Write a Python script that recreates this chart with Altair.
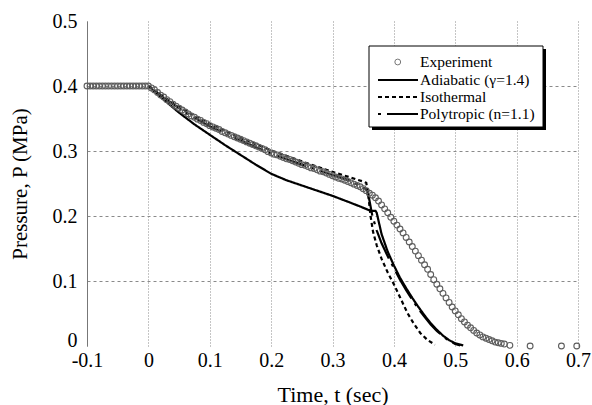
import altair as alt
import pandas as pd

# ---------------- data ----------------
exp_t = [-0.100, -0.095, -0.090, -0.085, -0.080, -0.075, -0.070, -0.065, -0.060, -0.055,
         -0.050, -0.045, -0.040, -0.035, -0.030, -0.025, -0.020, -0.015, -0.010, -0.005, 0.000,
         0.005, 0.010, 0.015, 0.020, 0.025, 0.030, 0.035, 0.040, 0.045, 0.050,
         0.055, 0.060, 0.065, 0.070, 0.075, 0.080, 0.085, 0.090, 0.095, 0.100,
         0.105, 0.110, 0.115, 0.120, 0.125, 0.130, 0.135, 0.140, 0.145, 0.150,
         0.155, 0.160, 0.165, 0.170, 0.175, 0.180, 0.185, 0.190, 0.195, 0.200,
         0.205, 0.210, 0.215, 0.220, 0.225, 0.230, 0.235, 0.240, 0.245, 0.250,
         0.255, 0.260, 0.265, 0.270, 0.275, 0.280, 0.285, 0.290, 0.295, 0.300,
         0.305, 0.310, 0.315, 0.320, 0.325, 0.330, 0.335, 0.340, 0.345, 0.350,
         0.355, 0.360, 0.365, 0.370, 0.375, 0.380, 0.385, 0.390, 0.395, 0.400,
         0.405, 0.410, 0.415, 0.420, 0.425, 0.430, 0.435, 0.440, 0.445, 0.450,
         0.455, 0.460, 0.465, 0.470, 0.475, 0.480, 0.485, 0.490, 0.495, 0.500,
         0.505, 0.510, 0.515, 0.520, 0.525, 0.530, 0.535, 0.540, 0.545, 0.550,
         0.555, 0.560, 0.565, 0.570, 0.575, 0.580,
         0.589, 0.622, 0.673, 0.698]
exp_p = [0.400, 0.400, 0.400, 0.400, 0.400, 0.400, 0.400, 0.400, 0.400, 0.400,
         0.400, 0.400, 0.400, 0.400, 0.400, 0.400, 0.400, 0.400, 0.400, 0.400, 0.400,
         0.397, 0.394, 0.390, 0.386, 0.383, 0.379, 0.376, 0.372, 0.369, 0.366,
         0.363, 0.360, 0.357, 0.354, 0.352, 0.349, 0.347, 0.344, 0.342, 0.339,
         0.337, 0.335, 0.333, 0.330, 0.328, 0.326, 0.324, 0.322, 0.320, 0.318,
         0.316, 0.314, 0.312, 0.310, 0.308, 0.306, 0.304, 0.302, 0.299, 0.297,
         0.295, 0.294, 0.292, 0.290, 0.288, 0.287, 0.285, 0.283, 0.281, 0.279,
         0.278, 0.276, 0.274, 0.273, 0.271, 0.269, 0.268, 0.266, 0.264, 0.262,
         0.260, 0.258, 0.257, 0.255, 0.253, 0.251, 0.249, 0.247, 0.245, 0.242,
         0.239, 0.235, 0.232, 0.228, 0.223, 0.217, 0.211, 0.205, 0.198, 0.192,
         0.186, 0.180, 0.174, 0.167, 0.160, 0.153, 0.146, 0.139, 0.132, 0.125,
         0.118, 0.110, 0.102, 0.095, 0.088, 0.081, 0.074, 0.067, 0.060, 0.054,
         0.048, 0.042, 0.037, 0.032, 0.028, 0.024, 0.020, 0.017, 0.014, 0.012,
         0.010, 0.008, 0.006, 0.005, 0.004, 0.003,
         0.001, 0.000, 0.000, 0.000]

adi_t = [0.000, 0.025, 0.050, 0.075, 0.100, 0.125, 0.150, 0.175, 0.200, 0.225, 0.250,
         0.275, 0.300, 0.325, 0.344, 0.362, 0.370, 0.372, 0.380, 0.390, 0.400, 0.410,
         0.420, 0.430, 0.440, 0.450, 0.460, 0.470, 0.480, 0.490, 0.500, 0.513]
adi_p = [0.400, 0.379, 0.359, 0.341, 0.325, 0.309, 0.294, 0.279, 0.265, 0.255, 0.247,
         0.239, 0.231, 0.222, 0.215, 0.208, 0.208, 0.205, 0.172, 0.145, 0.124, 0.105,
         0.089, 0.074, 0.060, 0.047, 0.035, 0.025, 0.016, 0.009, 0.004, 0.001]

iso_t = [0.000, 0.025, 0.050, 0.075, 0.100, 0.150, 0.200, 0.250, 0.300, 0.350, 0.355,
         0.358, 0.362, 0.366, 0.372, 0.380, 0.390, 0.400, 0.410, 0.422, 0.432, 0.443,
         0.455, 0.467]
iso_p = [0.400, 0.383, 0.368, 0.354, 0.342, 0.320, 0.301, 0.284, 0.268, 0.253, 0.251,
         0.235, 0.200, 0.176, 0.155, 0.134, 0.113, 0.095, 0.075, 0.051, 0.035, 0.020,
         0.009, 0.002]

pol_t = [0.000, 0.025, 0.050, 0.075, 0.100, 0.150, 0.200, 0.250, 0.300, 0.330, 0.357,
         0.360, 0.365, 0.372, 0.380, 0.390, 0.400, 0.410, 0.420, 0.430, 0.440, 0.450,
         0.460, 0.470, 0.480, 0.490, 0.500, 0.508]
pol_p = [0.400, 0.382, 0.366, 0.351, 0.338, 0.316, 0.296, 0.279, 0.263, 0.254, 0.240,
         0.225, 0.200, 0.178, 0.158, 0.138, 0.120, 0.102, 0.086, 0.071, 0.057, 0.045,
         0.033, 0.023, 0.015, 0.008, 0.003, 0.001]

exp_name = "Experiment"
line_names = ["Adiabatic (\u03b3=1.4)", "Isothermal", "Polytropic (n=1.1)"]
line_dash = [[1, 0], [4, 3], [3, 6, 31, 6]]
x_ticks = [-0.1, 0.0, 0.1, 0.2, 0.3, 0.4, 0.5, 0.6, 0.7]
y_ticks = [0.0, 0.1, 0.2, 0.3, 0.4, 0.5]

# ---------------- tables ----------------
exp_df = pd.DataFrame({"t": exp_t, "p": exp_p, "series": exp_name})
line_df = pd.concat([
    pd.DataFrame({"t": adi_t, "p": adi_p, "series": line_names[0]}),
    pd.DataFrame({"t": iso_t, "p": iso_p, "series": line_names[1]}),
    pd.DataFrame({"t": pol_t, "p": pol_p, "series": line_names[2]}),
], ignore_index=True)

FONT = "Liberation Serif, Times New Roman, serif"

x_enc = alt.X("t:Q",
    scale=alt.Scale(domain=[-0.1, 0.7], nice=False, zero=False),
    axis=alt.Axis(values=x_ticks, title="Time, t (sec)",
                  labelExpr="datum.value === 0 ? '0' : (datum.value < 0 ? '-' + format(-datum.value, '.1f') : format(datum.value, '.1f'))",
                  grid=True, gridDash=[1, 2], gridColor="#8a8a8a", gridWidth=1,
                  domain=False, ticks=False, labelPadding=4, labelFlush=False, labelOverlap=False,
                  labelFont=FONT, labelFontSize=20, labelColor="black",
                  titleFont=FONT, titleFontSize=22, titleFontWeight="normal", titleColor="black",
                  titleY=55, titleBaseline="alphabetic"))

y_enc = alt.Y("p:Q",
    scale=alt.Scale(domain=[0, 0.5], nice=False),
    axis=alt.Axis(values=y_ticks, title="Pressure, P (MPa)",
                  labelExpr="datum.value === 0 ? '0' : format(datum.value, '.1f')",
                  grid=True, gridDash=[3, 3], gridColor="#8a8a8a", gridWidth=1,
                  gridOpacity={"condition": {"test": "datum.value === 0 || datum.value === 0.5", "value": 0}, "value": 1},
                  labelOffset={"condition": {"test": "datum.value === 0", "value": -6}, "value": 0},
                  domain=True, domainColor="#777", domainWidth=1, ticks=False,
                  labelPadding=10, labelFlush=False, labelOverlap=False,
                  labelFont=FONT, labelFontSize=20, labelColor="black",
                  titleFont=FONT, titleFontSize=21, titleFontWeight="normal", titleColor="black",
                  titleX=-61, titleY=162.5, titleAlign="center", titleBaseline="alphabetic"))

common_legend = dict(title=None, orient="none", direction="vertical", padding=0,
                     labelFont=FONT, labelFontSize=15.5, labelColor="black",
                     clipHeight=17, rowPadding=0)

line_legend = alt.Legend(legendX=290, legendY=50.5,
                         symbolType="stroke", symbolSize=1600, symbolStrokeWidth=2,
                         symbolStrokeColor="black", labelOffset=1, **common_legend)
point_legend = alt.Legend(legendX=290, legendY=32.5,
                          symbolType="circle", symbolSize=34, symbolStrokeWidth=1,
                          symbolStrokeColor="#777", symbolFillColor="transparent",
                          symbolOffset=13, labelOffset=14.5, **common_legend)

lines = alt.Chart(line_df).mark_line(color="black", strokeWidth=2.2).encode(
    x=x_enc, y=y_enc,
    strokeDash=alt.StrokeDash("series:N",
        scale=alt.Scale(domain=line_names, range=line_dash),
        legend=line_legend),
)

points = alt.Chart(exp_df).mark_point(filled=False, size=34,
                                      color="#5e5e5e", strokeWidth=1.1, opacity=1).encode(
    x=alt.X("t:Q"), y=alt.Y("p:Q"),
    shape=alt.Shape("series:N", scale=alt.Scale(domain=[exp_name], range=["circle"]),
                    legend=point_legend),
)

# legend frame with drop shadow (decoration, pixel positioned)
frame_src = pd.DataFrame({"k": [0]})
shadow = alt.Chart(frame_src).mark_rect(color="black").encode(
    x=alt.value(285), x2=alt.value(459), y=alt.value(28), y2=alt.value(109))
frame = alt.Chart(frame_src).mark_rect(fill="white", stroke="black", strokeWidth=1).encode(
    x=alt.value(282), x2=alt.value(456), y=alt.value(25), y2=alt.value(106))

chart = alt.layer(lines, points, shadow, frame).resolve_legend(
    shape="independent", strokeDash="independent"
).properties(
    width=491, height=325,
    padding={"left": 87, "top": 21, "right": 14, "bottom": 59},
    autosize=alt.AutoSizeParams(type="none"),
).configure_view(stroke="transparent")

chart.save("out.html", embed_options={"renderer": "svg", "actions": False})
